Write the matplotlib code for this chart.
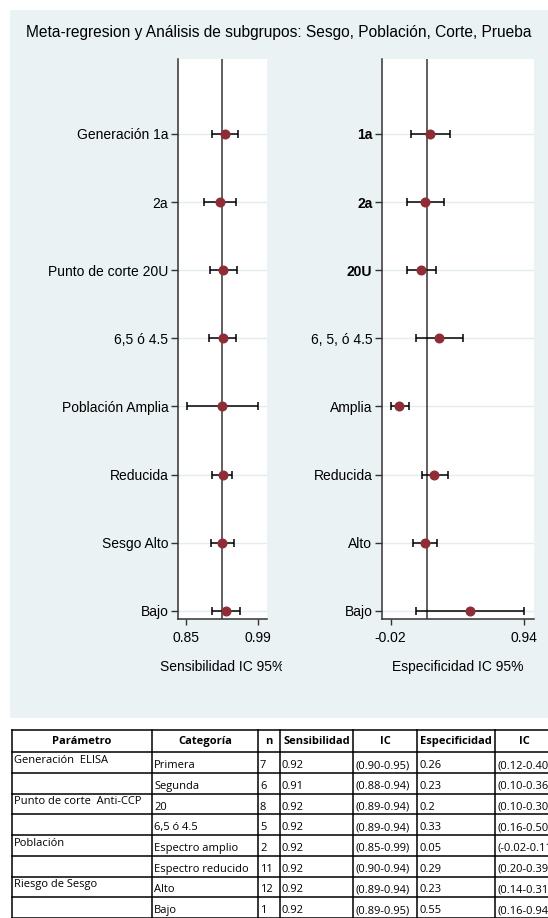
import matplotlib
matplotlib.use("Agg")
import matplotlib.pyplot as plt
from matplotlib.patches import Rectangle
from matplotlib.transforms import Bbox

plt.rcParams['font.family'] = ['Liberation Sans', 'DejaVu Sans']

# values
left_labels = ["Generación 1a", "2a", "Punto de corte 20U", "6,5 ó 4.5",
               "Población Amplia", "Reducida", "Sesgo Alto", "Bajo"]
right_labels = ["1a", "2a", "20U", "6, 5, ó 4.5", "Amplia", "Reducida", "Alto", "Bajo"]
sens_est = [0.926, 0.916, 0.923, 0.922, 0.921, 0.922, 0.921, 0.928]
sens_lo = [0.901, 0.886, 0.897, 0.895, 0.852, 0.901, 0.899, 0.900]
sens_hi = [0.951, 0.948, 0.949, 0.948, 0.990, 0.940, 0.944, 0.955]
spec_est = [0.260, 0.229, 0.200, 0.327, 0.042, 0.293, 0.226, 0.552]
spec_lo = [0.124, 0.095, 0.097, 0.160, -0.020, 0.203, 0.142, 0.160]
spec_hi = [0.404, 0.363, 0.305, 0.500, 0.112, 0.390, 0.310, 0.940]
sens_ref = 0.92
spec_ref = 0.24
sens_ticks = [0.85, 0.99]
spec_ticks = [-0.02, 0.94]

# table under the chart
tab_header = ["Parámetro", "Categoría", "n", "Sensibilidad", "IC", "Especificidad", "IC"]
tab_param = ["Generación  ELISA", "", "Punto de corte  Anti-CCP", "", "Población", "",
             "Riesgo de Sesgo", ""]
tab_cat = ["Primera", "Segunda", "20", "6,5 ó 4.5", "Espectro amplio", "Espectro reducido",
           "Alto", "Bajo"]
tab_n = ["7", "6", "8", "5", "2", "11", "12", "1"]
tab_sens = ["0.92", "0.91", "0.92", "0.92", "0.92", "0.92", "0.92", "0.92"]
tab_sens_ic = ["(0.90-0.95)", "(0.88-0.94)", "(0.89-0.94)", "(0.89-0.94)", "(0.85-0.99)",
               "(0.90-0.94)", "(0.89-0.94)", "(0.89-0.95)"]
tab_spec = ["0.26", "0.23", "0.2", "0.33", "0.05", "0.29", "0.23", "0.55"]
tab_spec_ic = ["(0.12-0.40)", "(0.10-0.36)", "(0.10-0.30)", "(0.16-0.50)", "(-0.02-0.11)",
               "(0.20-0.39)", "(0.14-0.31)", "(0.16-0.94)"]

W, H = 548, 918
BG = "#eaf2f3"
DOT = "#8f2d37"

fig = plt.figure(figsize=(W / 100, H / 100), dpi=100)
fig.patch.set_facecolor("white")

# background axes in pixel units
bg = fig.add_axes([0, 0, 1, 1])
bg.set_xlim(0, W)
bg.set_ylim(H, 0)
bg.axis("off")
bg.add_patch(Rectangle((10, 10), W - 10, 708, facecolor=BG, edgecolor="none"))
bg.text(W / 2 + 5, 33, "Meta-regresion y Análisis de subgrupos: Sesgo, Población, Corte, Prueba",
        ha="center", va="center", fontsize=11.2)


def forest(ax_box, est, lo, hi, ref, ticks, xlim, labels, bold_n=0):
    ax = fig.add_axes(ax_box)
    ax.set_facecolor("white")
    y = list(range(1, len(est) + 1))
    for yy in y:
        ax.axhline(yy, color="#e3edef", lw=1, zorder=1)
    ax.axvline(ref, color="#444444", lw=1.2, zorder=2)
    xerr = [[e - l for e, l in zip(est, lo)], [h - e for e, h in zip(est, hi)]]
    ax.errorbar(est, y, xerr=xerr, fmt="o", color=DOT, ms=6.2, ecolor="black",
                elinewidth=1.1, capsize=3, capthick=1.1, zorder=3)
    ax.set_xlim(*xlim)
    ax.set_ylim(8.12, -0.1)
    ax.set_yticks(y)
    ax.set_yticklabels(labels, fontsize=10)
    for i, t in enumerate(ax.get_yticklabels()):
        if i < bold_n:
            t.set_fontweight("bold")
    ax.set_xticks(ticks)
    ax.set_xticklabels(["%g" % t for t in ticks], fontsize=10)
    ax.tick_params(axis="y", length=5, width=1, color="#333333", pad=2)
    ax.tick_params(axis="x", length=4, width=1, color="#333333", pad=5)
    for s in ["top", "right"]:
        ax.spines[s].set_visible(False)
    for s in ["left", "bottom"]:
        ax.spines[s].set_color("#333333")
        ax.spines[s].set_linewidth(1.1)
    return ax


bottom = 1 - 619 / H
height = 560 / H
forest([178 / W, bottom, 89 / W, height], sens_est, sens_lo, sens_hi, sens_ref,
       sens_ticks, (0.8344, 1.0082), left_labels)
forest([382 / W, bottom, 152 / W, height], spec_est, spec_lo, spec_hi, spec_ref,
       spec_ticks, (-0.0825, 1.0095), right_labels, bold_n=3)

t1 = bg.text(222.5, 667, "Sensibilidad IC 95%", ha="center", va="center", fontsize=10)
t1.set_clip_box(Bbox.from_extents(0, 0, 282, H))
t1.set_clip_on(True)
bg.text(458, 667, "Especificidad IC 95%", ha="center", va="center", fontsize=10)

# table (the last column runs past the right edge, as in the source image)
col_x = [12, 152, 258, 280, 353, 417, 495, 553]
row_y = [730, 752] + [752 + 20.75 * (i + 1) for i in range(8)]
tfont = ["Open Sans", "DejaVu Sans"]
for x in col_x:
    bg.plot([x, x], [row_y[0], row_y[-1] + 2], color="black", lw=1.1)
for yv in row_y:
    bg.plot([col_x[0], col_x[-1]], [yv, yv], color="black", lw=1.1)
for j, h in enumerate(tab_header):
    bg.text((col_x[j] + col_x[j + 1]) / 2, 741.5, h, ha="center", va="center",
            fontsize=8, fontweight="bold", family=tfont)
columns = [tab_param, tab_cat, tab_n, tab_sens, tab_sens_ic, tab_spec, tab_spec_ic]
for j, col in enumerate(columns):
    for i, v in enumerate(col):
        top = row_y[i + 1]
        yy = top + 8.5 if j == 0 else top + 13.5
        bg.text(col_x[j] + 2, yy, v, ha="left", va="center", fontsize=8, family=tfont)

fig.savefig("out.png", dpi=100)
